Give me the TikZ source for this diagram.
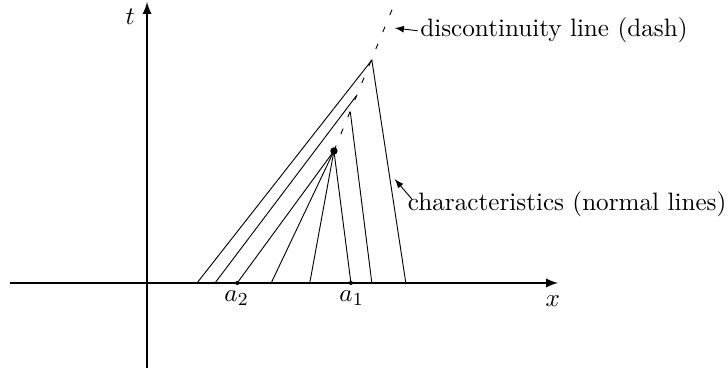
\documentclass[tikz,border=0pt]{standalone}
\begin{document}
\begin{tikzpicture}[
    every node/.style={font=\fontsize{10.95}{13.6}\selectfont},
    axis/.style={thick, -latex},
    charline/.style={thin},
    jump/.style={thin, dash pattern=on 2.5pt off 5.5pt},
    lbl/.style={inner sep=1pt, align=left},
    ptr/.style={thin, -latex}
]
    \useasboundingbox (-2.25,-1.36) rectangle (8.89,4.33);

    % axes
    \coordinate (xstart) at (-2.10,0);
    \coordinate (xend) at (6.29,0);
    \coordinate (tstart) at (0,-1.30);
    \coordinate (tend) at (0,4.30);
    \draw[axis] (xstart) -- (xend);
    \draw[axis] (tstart) -- (tend);
    \node (xlbl) at (6.21,-0.27) {$x$};
    \node (tlbl) at (-0.26,4.07) {$t$};

    % discontinuity line, starts at the shock point
    \coordinate (shock) at (2.86,2.02);
    \coordinate (dtop) at (3.76,4.21);
    \draw[jump] (shock) -- (dtop);

    % points where characteristics hit the dashed line
    \coordinate (p1) at (3.44,3.41);
    \coordinate (p2) at (3.20,2.86);
    \coordinate (p3) at (3.11,2.62);

    % feet on the x axis
    \foreach \n/\x in {f1/0.765, f2/1.04, a2/1.38, f3/1.90, f4/2.49, a1/3.12, f5/3.44, f6/3.96} {
        \coordinate (\n) at (\x,0);
    }

    % fan from the shock point
    \foreach \n in {a2, f3, f4, a1} {
        \draw[charline] (shock) -- (\n);
    }

    % characteristics running into the discontinuity
    \draw[charline] (f1) -- (p1) -- (f6);
    \draw[charline] (f2) -- (p2);
    \draw[charline] (p3) -- (f5);

    \fill (shock) circle (1.6pt);
    \fill (a2) circle (0.9pt);
    \fill (a1) circle (0.9pt);
    \node (a2lbl) at (1.37,-0.23) {$a_2$};
    \node (a1lbl) at (3.13,-0.23) {$a_1$};

    % labels with pointers
    \coordinate (dtip) at (3.79,3.90);
    \coordinate (ctip) at (3.79,1.59);
    \node[lbl] (dlbl) at (4.14,3.86) [right] {discontinuity line (dash)};
    \node[lbl] (clbl) at (3.95,1.21) [right] {characteristics (normal lines)};
    \draw[ptr] (dlbl.west) -- (dtip);
    \draw[ptr] ([xshift=3pt,yshift=2pt]clbl.west) -- (ctip);
\end{tikzpicture}
\end{document}
